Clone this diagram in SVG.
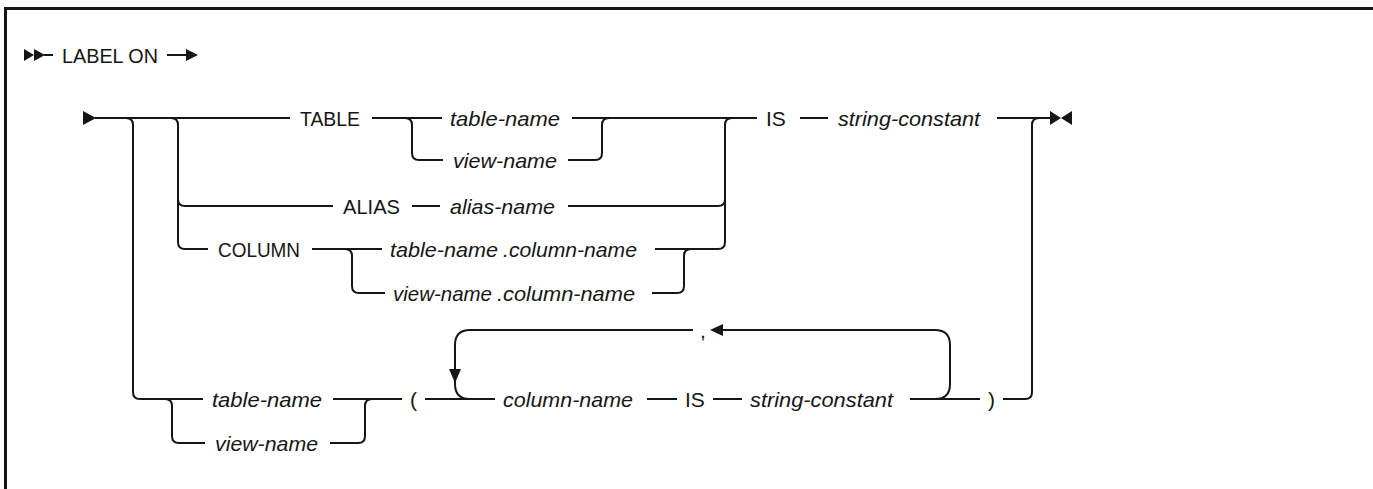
<svg xmlns="http://www.w3.org/2000/svg" width="1373" height="489" viewBox="0 0 1373 489">
<style>
.ln{fill:none;stroke:#161616;stroke-width:2}
.ah{fill:#161616;stroke:none}
.kw{font-family:"Liberation Sans",Arial,sans-serif;font-size:21px;fill:#161616}
.var{font-family:"Liberation Sans",Arial,sans-serif;font-size:21px;font-style:italic;fill:#161616}
</style>
<rect width="1373" height="489" fill="#ffffff"/>
<path d="M5.5,489 L5.5,8.5 L1373,8.5" fill="none" stroke="#161616" stroke-width="3"/>
<g id="connectors">
  <polygon class="ah" points="24,49 34,55 24,61"/>
  <polygon class="ah" points="34,49 45,55 34,61"/>
  <path class="ln" d="M44,55 L53,55"/>
  <path class="ln" d="M167,55 L189,55"/>
  <polygon class="ah" points="186,49 198,55 186,61"/>
  <polygon class="ah" points="83,111 96,118 83,125"/>
  <path class="ln" d="M95,118 L290,118"/>
  <path class="ln" d="M126,118 Q133,118 133,125 L133,392 Q133,399 140,399 L203,399"/>
  <path class="ln" d="M171,118 Q178,118 178,125 L178,199 Q178,206 185,206 L333,206"/>
  <path class="ln" d="M178,199 L178,242 Q178,249 185,249 L208,249"/>
  <path class="ln" d="M372,118 L442,118"/>
  <path class="ln" d="M405,118 Q412,118 412,125 L412,153 Q412,160 419,160 L443,160"/>
  <path class="ln" d="M572,118 L757,118"/>
  <path class="ln" d="M568,160 L595,160 Q602,160 602,153 L602,125 Q602,118 609,118"/>
  <path class="ln" d="M412,206 L440,206"/>
  <path class="ln" d="M568,206 L718,206 Q725,206 725,199 L725,125 Q725,118 732,118"/>
  <path class="ln" d="M312,249 L382,249"/>
  <path class="ln" d="M345,249 Q352,249 352,256 L352,286 Q352,293 359,293 L385,293"/>
  <path class="ln" d="M655,249 L718,249 Q725,249 725,242 L725,199"/>
  <path class="ln" d="M652,293 L677,293 Q684,293 684,286 L684,256 Q684,249 691,249"/>
  <path class="ln" d="M800,118 L828,118"/>
  <path class="ln" d="M997,118 L1051,118"/>
  <polygon class="ah" points="1050,111 1061,118 1050,125"/>
  <polygon class="ah" points="1072,111 1061,118 1072,125"/>
  <path class="ln" d="M1003,399 L1025,399 Q1032,399 1032,392 L1032,125 Q1032,118 1039,118"/>
  <path class="ln" d="M165,399 Q172,399 172,406 L172,436 Q172,443 179,443 L205,443"/>
  <path class="ln" d="M333,399 L402,399"/>
  <path class="ln" d="M330,443 L358,443 Q365,443 365,436 L365,406 Q365,399 372,399"/>
  <path class="ln" d="M425,399 L495,399"/>
  <path class="ln" d="M693,330 L470,330 Q455,330 455,345 L455,384 Q455,399 470,399"/>
  <polygon class="ah" points="449,369 461,369 455,383"/>
  <path class="ln" d="M722,330 L935,330 Q950,330 950,345 L950,384 Q950,399 935,399 L910,399"/>
  <polygon class="ah" points="710,330 723,324 723,336"/>
  <path class="ln" d="M910,399 L980,399"/>
  <path class="ln" d="M647,399 L677,399"/>
  <path class="ln" d="M713,399 L742,399"/>
</g>
<g id="n-labelon"><text class="kw" x="62" y="62.5" textLength="96" lengthAdjust="spacingAndGlyphs">LABEL ON</text></g>
<g id="n-table"><text class="kw" x="300" y="125.5" textLength="60" lengthAdjust="spacingAndGlyphs">TABLE</text></g>
<g id="n-tablename"><text class="var" x="450" y="125.5" textLength="110" lengthAdjust="spacingAndGlyphs">table-name</text></g>
<g id="n-viewname"><text class="var" x="453" y="167.5" textLength="104" lengthAdjust="spacingAndGlyphs">view-name</text></g>
<g id="n-alias"><text class="kw" x="343" y="213.5" textLength="57" lengthAdjust="spacingAndGlyphs">ALIAS</text></g>
<g id="n-aliasname"><text class="var" x="450" y="213.5" textLength="105" lengthAdjust="spacingAndGlyphs">alias-name</text></g>
<g id="n-column"><text class="kw" x="218" y="256.5" textLength="82" lengthAdjust="spacingAndGlyphs">COLUMN</text></g>
<g id="n-tablecol"><text class="var" x="390" y="256.5" textLength="108" lengthAdjust="spacingAndGlyphs">table-name</text><text class="var" x="503" y="256.5" textLength="134" lengthAdjust="spacingAndGlyphs">.column-name</text></g>
<g id="n-viewcol"><text class="var" x="393" y="300.5" textLength="99" lengthAdjust="spacingAndGlyphs">view-name</text><text class="var" x="497" y="300.5" textLength="138" lengthAdjust="spacingAndGlyphs">.column-name</text></g>
<g id="n-is"><text class="kw" x="766" y="125.5">IS</text></g>
<g id="n-strconst"><text class="var" x="838" y="125.5" textLength="142" lengthAdjust="spacingAndGlyphs">string-constant</text></g>
<g id="n-tablename2"><text class="var" x="212" y="406.5" textLength="110" lengthAdjust="spacingAndGlyphs">table-name</text></g>
<g id="n-viewname2"><text class="var" x="215" y="450.5" textLength="103" lengthAdjust="spacingAndGlyphs">view-name</text></g>
<g id="n-lparen"><text class="kw" x="410" y="406.5">(</text></g>
<g id="n-comma"><text class="kw" x="700" y="337.5">,</text></g>
<g id="n-colname"><text class="var" x="503" y="406.5" textLength="130" lengthAdjust="spacingAndGlyphs">column-name</text></g>
<g id="n-is2"><text class="kw" x="685" y="406.5">IS</text></g>
<g id="n-strconst2"><text class="var" x="750" y="406.5" textLength="143" lengthAdjust="spacingAndGlyphs">string-constant</text></g>
<g id="n-rparen"><text class="kw" x="988" y="406.5">)</text></g>
</svg>
